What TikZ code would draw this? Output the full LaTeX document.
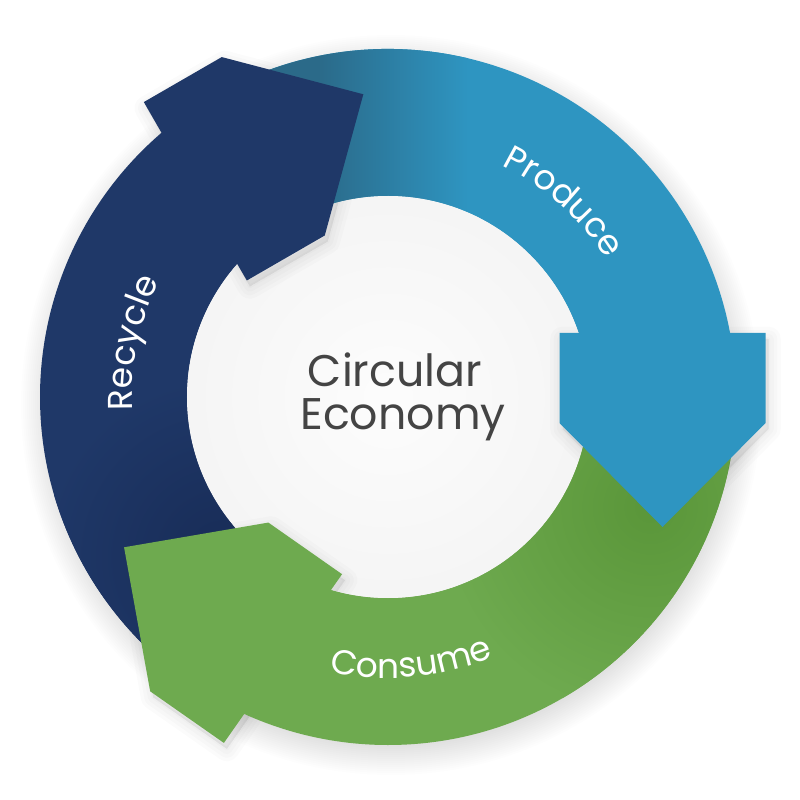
\documentclass[tikz,border=0pt]{standalone}
\usepackage{fontspec}
\setmainfont{Poppins}
\usetikzlibrary{decorations.text}

\definecolor{recyclenavy}{HTML}{1F3868}
\definecolor{recycleshade}{HTML}{182C57}
\definecolor{produceblue}{HTML}{2E95C1}
\definecolor{produceshade}{HTML}{2B6A89}
\definecolor{consumegreen}{HTML}{6EAA4F}
\definecolor{consumeshade}{HTML}{5A9639}
\definecolor{titlegray}{HTML}{444444}

\newcommand{\ringlabel}{\color{white}\fontsize{9.8}{11}\selectfont}

\tikzset{
  maintitle/.style={text=titlegray, font=\fontsize{12.6}{14}\selectfont, anchor=base, inner sep=0pt},
  ringtext/.style={decorate, decoration={text along path, text align=center, text color=white}},
}

\begin{document}
\begin{tikzpicture}[x=0.01cm, y=0.01cm]
	\fill[white] (-388,-403) rectangle (412,397);
	\useasboundingbox (-388,-403) rectangle (412,397);

	% soft shadow under the ring
	\foreach \k in {1,...,16}
		\fill[black, opacity=0.008] (3,-8) circle[radius=338+2*\k];

	% the three bands
	\fill[produceblue] (120:348) arc[start angle=120, end angle=0, radius=348]
		-- (0:201) arc[start angle=0, end angle=120, radius=201] -- cycle;
	\fill[consumegreen] (0:348) arc[start angle=0, end angle=-125, radius=348]
		-- (-125:201) arc[start angle=-125, end angle=0, radius=201] -- cycle;
	\fill[recyclenavy] (235:348) arc[start angle=235, end angle=120, radius=348]
		-- (120:201) arc[start angle=120, end angle=235, radius=201] -- cycle;

	% darker parts under the heads
	\begin{scope}
		\clip (120:348) arc[start angle=120, end angle=0, radius=348]
			-- (0:201) arc[start angle=0, end angle=120, radius=201] -- cycle;
		\fill[produceshade] (-220,100) rectangle (-70,360);
		\shade[left color=produceshade, right color=produceblue] (-70,100) rectangle (80,360);
	\end{scope}
	\begin{scope}
		\clip (0:348) arc[start angle=0, end angle=-125, radius=348]
			-- (-125:201) arc[start angle=-125, end angle=0, radius=201] -- cycle;
		\shade[inner color=consumeshade, outer color=consumegreen] (262,-110) circle[radius=210];
	\end{scope}
	\begin{scope}
		\clip (235:348) arc[start angle=235, end angle=120, radius=348]
			-- (120:201) arc[start angle=120, end angle=235, radius=201] -- cycle;
		\shade[inner color=recycleshade, outer color=recyclenavy] (-165,-160) circle[radius=180];
	\end{scope}

	% inner disc
	\shade[inner color=gray!2, outer color=gray!8] (0,0) circle[radius=201];

	% heads, their shadow only off the ring
	\begin{scope}[even odd rule]
		\clip (-388,-403) rectangle (412,397) (0,0) circle[radius=348] (0,0) circle[radius=201];
		\foreach \a in {0,120,235}
			\foreach \w in {1,3,5,7}
				\filldraw[black, opacity=0.015, line width=\w pt, line join=round, shift={(3,-6)}, rotate=\a]
					(377.5,64) -- (377.5,-26) -- (274.5,-130) -- (171.5,-26) -- (171.5,64) -- cycle;
	\end{scope}
	\foreach \a/\c in {0/produceblue, 120/recyclenavy, 235/consumegreen}
		\fill[\c, rotate=\a] (377.5,64) -- (377.5,-26) -- (274.5,-130) -- (171.5,-26) -- (171.5,64) -- cycle;

	% labels
	\path[ringtext, decoration={text={|\ringlabel|Produce}}] (83:258) arc[start angle=83, end angle=13, radius=258];
	\path[ringtext, decoration={text={|\ringlabel|Recycle}}] (203:256) arc[start angle=203, end angle=133, radius=256];
	\path[ringtext, decoration={text={|\ringlabel|Consume}}] (-120:281) arc[start angle=-120, end angle=-50, radius=281];

	\node[maintitle] (circ) at (7,10) {Circular};
	\node[maintitle] (econ) at (15,-32) {Economy};
\end{tikzpicture}
\end{document}
